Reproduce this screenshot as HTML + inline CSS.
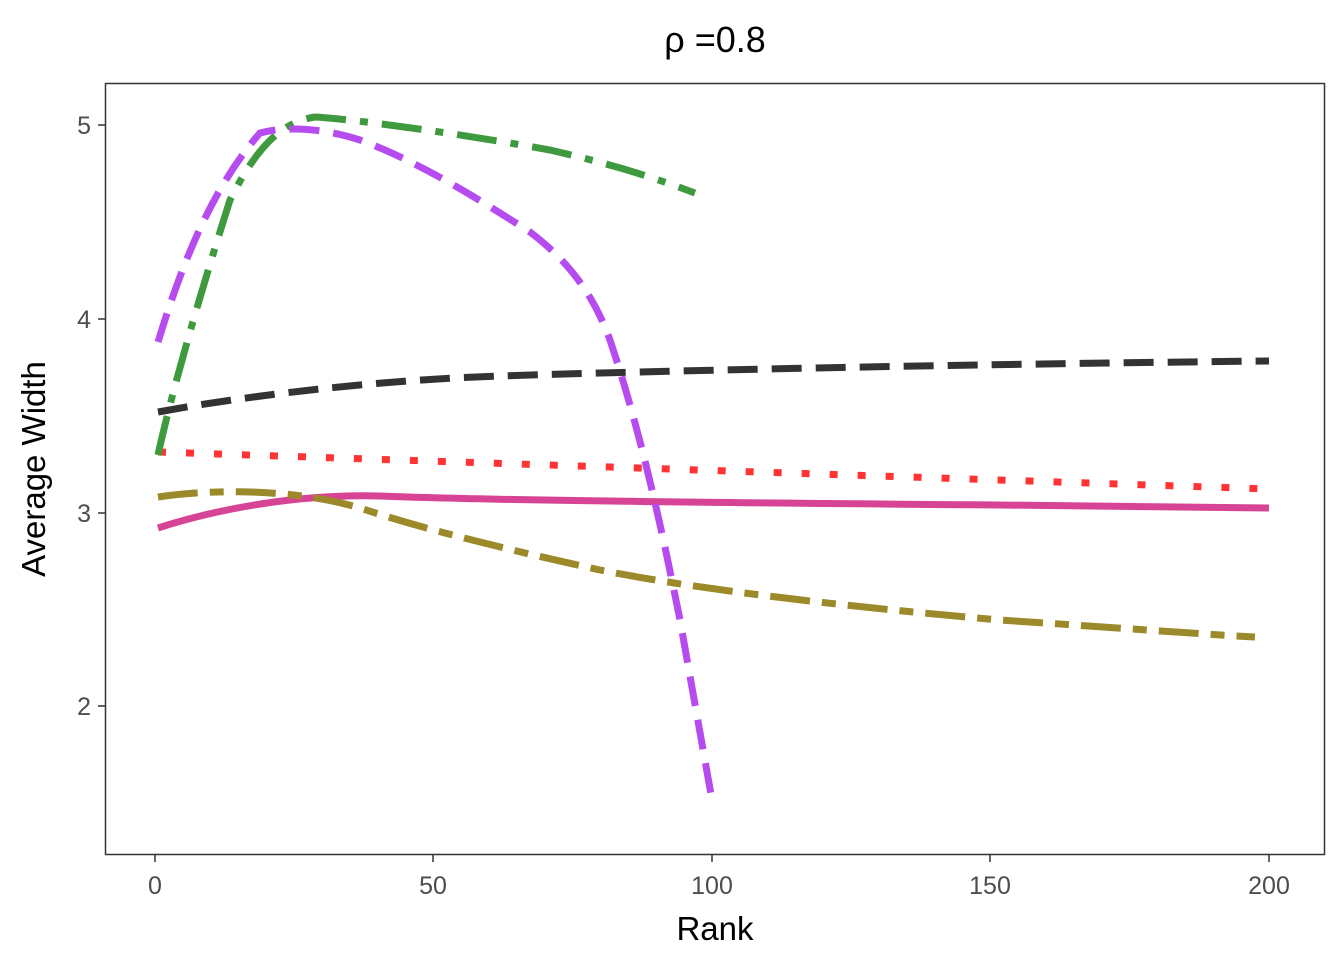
<!DOCTYPE html>
<html><head><meta charset="utf-8"><style>
body{margin:0;background:#fff;}
svg{display:block;font-family:"Liberation Sans",sans-serif;}
</style></head><body>
<svg width="1344" height="960" viewBox="0 0 1344 960">
<rect width="1344" height="960" fill="#fff"/>
<text x="715" y="52" font-size="36" text-anchor="middle" fill="#000">ρ =0.8</text>
<defs><clipPath id="c"><rect x="106" y="84" width="1218" height="770"/></clipPath></defs>
<g clip-path="url(#c)" fill="none" stroke-width="7">
<path d="M158,412 C250,395 380,380 500,376 S900,365 1269,361" stroke="#333" stroke-dasharray="30,14"/>
<path d="M158,452 L1269,489" stroke="#ff3333" stroke-dasharray="8,20"/>
<path d="M158,528 C220,508 300,494 380,496 C450,499 600,502 1000,505 L1269,508" stroke="#d63a8f" stroke-opacity="0.95"/>
<path d="M158,497 C220,488 300,490 360,508 C420,528 500,548 600,570 C700,590 850,607 1000,620 C1150,630 1200,634 1255,637" stroke="#9c8a2a" stroke-dasharray="40,12,14,12"/>
<path d="M158,455 C170,400 195,310 230,200 C255,150 280,122 315,117 C350,119 450,132 550,150 C620,166 660,180 695,193" stroke="#3f9a3f" stroke-dasharray="40,14,8,14"/>
<path d="M158,342 C180,270 210,190 260,133 C290,125 330,130 360,140 C420,162 480,200 530,232 C560,255 590,285 610,340 C640,430 660,520 680,620 L712,800" stroke="#b64cf0" stroke-dasharray="30,14"/>
</g>
<rect x="105.5" y="83.5" width="1219" height="771" fill="none" stroke="#333" stroke-width="1.5"/>
<g stroke="#333" stroke-width="1.5">
<line x1="155" y1="855" x2="155" y2="862"/><line x1="433" y1="855" x2="433" y2="862"/><line x1="712" y1="855" x2="712" y2="862"/><line x1="990" y1="855" x2="990" y2="862"/><line x1="1269" y1="855" x2="1269" y2="862"/>
<line x1="98" y1="125" x2="105" y2="125"/><line x1="98" y1="319" x2="105" y2="319"/><line x1="98" y1="513" x2="105" y2="513"/><line x1="98" y1="706" x2="105" y2="706"/>
</g>
<g font-size="25" fill="#4d4d4d" text-anchor="middle">
<text x="155" y="894">0</text><text x="433" y="894">50</text><text x="712" y="894">100</text><text x="990" y="894">150</text><text x="1269" y="894">200</text>
</g>
<g font-size="25" fill="#4d4d4d" text-anchor="end">
<text x="91" y="134">5</text><text x="91" y="328">4</text><text x="91" y="522">3</text><text x="91" y="715">2</text>
</g>
<text x="715" y="940" font-size="33" text-anchor="middle" fill="#000">Rank</text>
<text transform="translate(45,469) rotate(-90)" font-size="33" text-anchor="middle" fill="#000">Average Width</text>
</svg>
</body></html>
